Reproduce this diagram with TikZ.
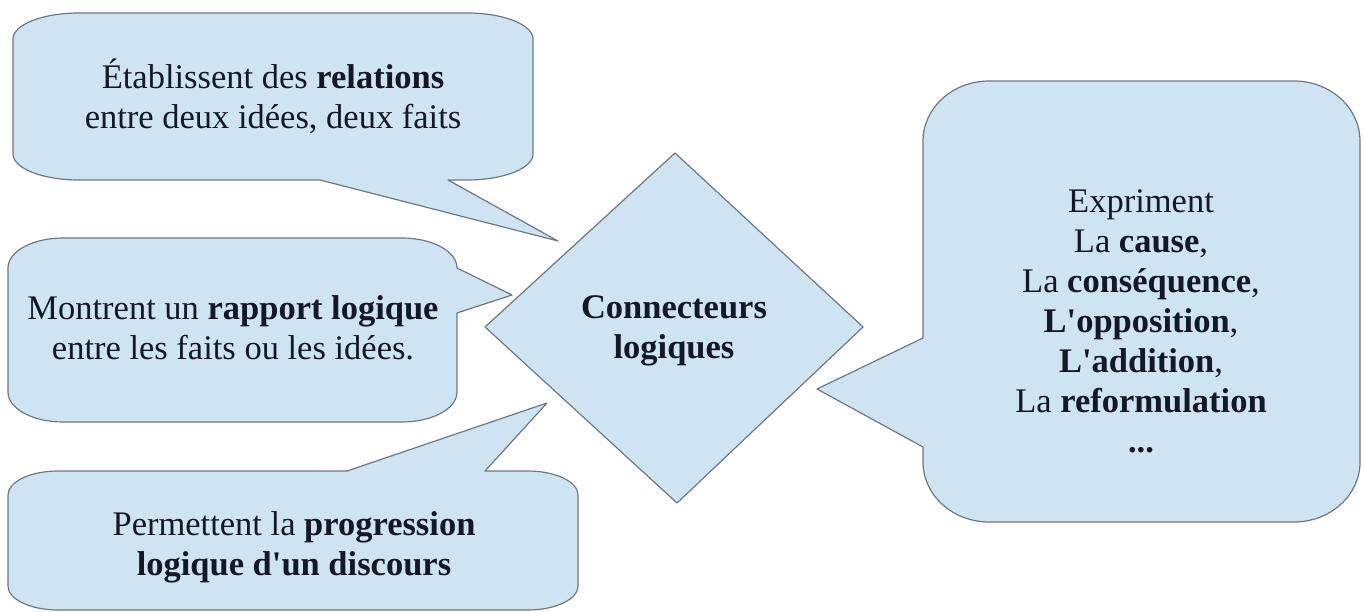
\documentclass[tikz,border=0pt]{standalone}
\usepackage{fontspec}
\setmainfont{LiberationSerif}[Extension=.ttf,UprightFont=*-Regular,BoldFont=*-Bold,ItalicFont=*-Italic,BoldItalicFont=*-BoldItalic,Ligatures=TeXOff]
\definecolor{cfill}{RGB}{207,228,243}
\definecolor{cline}{RGB}{110,120,130}
\definecolor{ctext}{RGB}{20,24,38}
\newcommand\tstr{\rule{0pt}{34pt}}
\newcommand\bstr{\rule[-14pt]{0pt}{14pt}}
\begin{document}
\begin{tikzpicture}[x=1pt,y=-1pt,
  shapestyle/.style={fill=cfill,draw=cline,line width=1.2pt,line join=round},
  txt/.style={inner sep=0pt,align=center,text=ctext,font=\fontsize{34.5}{40}\selectfont}]
\useasboundingbox (0,0) rectangle (1364,612);

% callout 1 (top left)
\path[shapestyle] (79,13) -- (467,13)
  .. controls (503.4,13) and (533,24.6) .. (533,39) -- (533,154)
  .. controls (533,168.4) and (503.4,180) .. (467,180) -- (448,180)
  -- (558,241) -- (320,180) -- (79,180)
  .. controls (42.6,180) and (13,168.4) .. (13,154) -- (13,39)
  .. controls (13,24.6) and (42.6,13) .. (79,13) -- cycle;

% callout 2 (middle left)
\path[shapestyle] (63,238) -- (402,238)
  .. controls (432.4,238) and (457,251.4) .. (457,268)
  -- (512,295) -- (457,313) -- (457,392)
  .. controls (457,408.6) and (432.4,422) .. (402,422) -- (63,422)
  .. controls (32.6,422) and (8,408.6) .. (8,392) -- (8,268)
  .. controls (8,251.4) and (32.6,238) .. (63,238) -- cycle;

% callout 3 (bottom left)
\path[shapestyle] (58,471) -- (347,471) -- (547,403) -- (485,471) -- (528,471)
  .. controls (555.6,471) and (578,481.8) .. (578,495) -- (578,586)
  .. controls (578,599.2) and (555.6,610) .. (528,610) -- (58,610)
  .. controls (30.4,610) and (8,599.2) .. (8,586) -- (8,495)
  .. controls (8,481.8) and (30.4,471) .. (58,471) -- cycle;

% callout 4 (right)
\path[shapestyle] (989,81) -- (1294,81)
  .. controls (1330.4,81) and (1360,107.9) .. (1360,141) -- (1360,462)
  .. controls (1360,495.1) and (1330.4,522) .. (1294,522) -- (989,522)
  .. controls (952.6,522) and (923,495.1) .. (923,462) -- (923,447)
  -- (817,389) -- (923,338) -- (923,141)
  .. controls (923,107.9) and (952.6,81) .. (989,81) -- cycle;

% diamond
\path[shapestyle] (675,153) -- (863,327) -- (677,503) -- (485,327) -- cycle;

% texts
\node[txt] (t1) at (273,98.5) {\tstr Établissent des \textbf{relations}\\entre deux idées, deux faits\bstr};
\node[txt] (t2) at (233,329) {\tstr Montrent un \textbf{rapport logique}\\entre les faits ou les idées.\bstr};
\node[txt] (t3) at (294,545) {\tstr Permettent la \textbf{progression}\\\textbf{logique d'un discours}\bstr};
\node[txt] (t4) at (1141,322) {\tstr Expriment\\La \textbf{cause},\\La \textbf{conséquence},\\\textbf{L'opposition},\\\textbf{L'addition},\\La \textbf{reformulation}\\\textbf{...}\bstr};
\node[txt] (c) at (674,328) {\tstr\textbf{Connecteurs}\\\textbf{logiques}\bstr};
\end{tikzpicture}
\end{document}
